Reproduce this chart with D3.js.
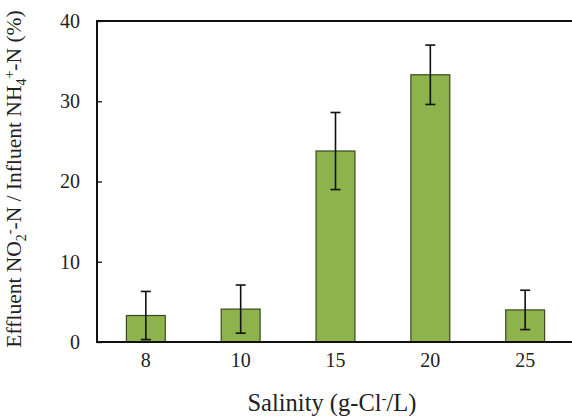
<!DOCTYPE html>
<html><head><meta charset="utf-8">
<script src="https://cdn.jsdelivr.net/npm/d3@7"></script>
<style>body{margin:0;background:#fff}svg{display:block}</style>
</head><body>
<script>
const categories = ["8","10","15","20","25"];
const values = [3.3, 4.1, 23.8, 33.3, 4.0];
const errors = [3.0, 3.0, 4.8, 3.7, 2.45];
const yTicks = [0, 10, 20, 30, 40];

const W = 572, H = 416;
const m = {left: 97, top: 21, right: 574, bottom: 342};
const svg = d3.select("body").append("svg").attr("width", W).attr("height", H);
const font = "'Liberation Serif','Times New Roman',serif";

const x = d3.scaleBand().domain(categories).range([m.left, m.right]).paddingInner(0.59).paddingOuter(0.31);
const y = d3.scaleLinear().domain([0, 40]).range([m.bottom, m.top]);

// bars
svg.selectAll("rect.bar").data(values).join("rect")
  .attr("x", (d,i) => x(categories[i]))
  .attr("y", d => y(d))
  .attr("width", x.bandwidth())
  .attr("height", d => y(0) - y(d))
  .attr("fill", "#8fb34c").attr("stroke", "#3a4a20").attr("stroke-width", 1.2);

// error bars
const eg = svg.append("g").attr("stroke", "#111").attr("stroke-width", 1.6);
values.forEach((v, i) => {
  const cx = x(categories[i]) + x.bandwidth()/2;
  const lo = Math.max(0, v - errors[i]), hi = v + errors[i];
  eg.append("line").attr("x1", cx).attr("x2", cx).attr("y1", y(lo)).attr("y2", y(hi));
  eg.append("line").attr("x1", cx-5).attr("x2", cx+5).attr("y1", y(hi)).attr("y2", y(hi));
  eg.append("line").attr("x1", cx-5).attr("x2", cx+5).attr("y1", y(lo)).attr("y2", y(lo));
});

// frame
svg.append("path").attr("d", `M${m.right},${m.top}H${m.left}V${m.bottom}H${m.right}`)
  .attr("fill", "none").attr("stroke", "#111").attr("stroke-width", 2);

// y axis
const ya = svg.append("g").attr("transform", `translate(${m.left},0)`)
  .call(d3.axisLeft(y).tickValues(yTicks).tickSize(-5).tickPadding(17));
ya.select(".domain").remove();
ya.selectAll(".tick line").attr("stroke", "#111").attr("stroke-width", 1.3);
ya.selectAll(".tick text").attr("font-family", font).attr("font-size", 20).attr("fill", "#222");

// x axis
const xa = svg.append("g").attr("transform", `translate(0,${m.bottom})`)
  .call(d3.axisBottom(x).tickSize(0).tickPadding(11));
xa.select(".domain").remove();
xa.selectAll(".tick text").attr("font-family", font).attr("font-size", 20).attr("fill", "#222");

// x title
const xt = svg.append("text").attr("x", 332).attr("y", 411).attr("text-anchor", "middle")
  .attr("font-family", font).attr("font-size", 24.5).attr("fill", "#222");
xt.append("tspan").text("Salinity (g-Cl");
xt.append("tspan").attr("dy", -8).attr("font-size", 15).text("-");
xt.append("tspan").attr("dy", 8).text("/L)");

// y title
const yt = svg.append("text").attr("transform", "translate(21,179) rotate(-90)").attr("text-anchor", "middle")
  .attr("font-family", font).attr("font-size", 21.5).attr("fill", "#222");
yt.append("tspan").text("Effluent NO");
yt.append("tspan").attr("dy", 5).attr("font-size", 14).text("2");
yt.append("tspan").attr("dy", -12).attr("font-size", 14).text("-");
yt.append("tspan").attr("dy", 7).text("-N / Influent NH");
yt.append("tspan").attr("dy", 5).attr("font-size", 14).text("4");
yt.append("tspan").attr("dy", -12).attr("font-size", 14).text("+");
yt.append("tspan").attr("dy", 7).text("-N (%)");
</script>
</body></html>
